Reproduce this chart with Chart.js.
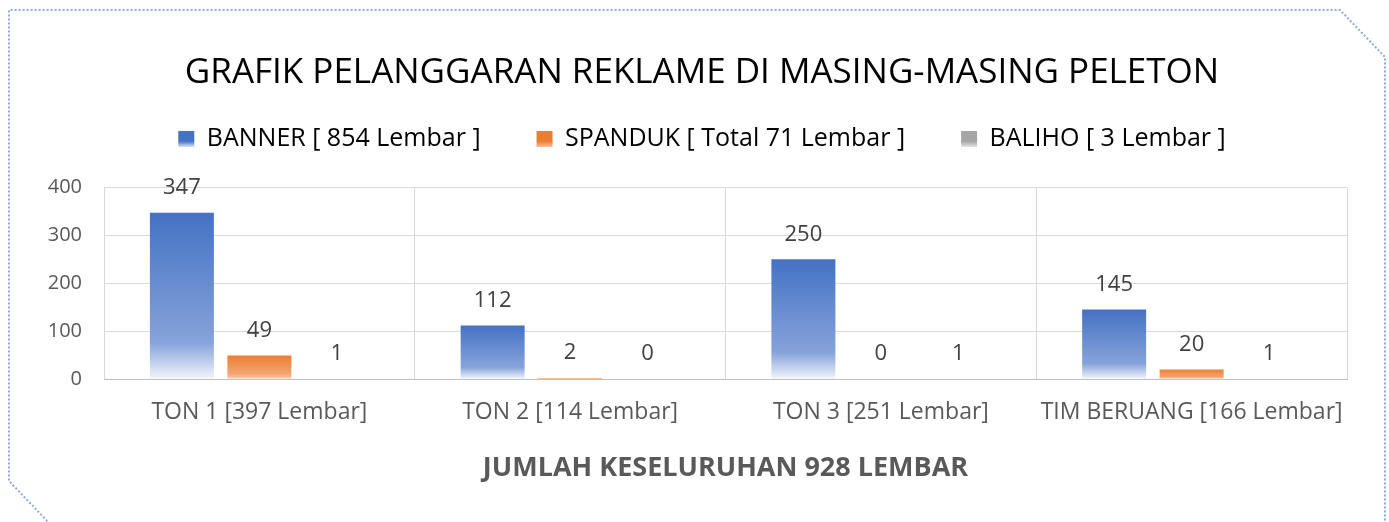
<!DOCTYPE html>
<html>
<head>
<meta charset="utf-8">
<script src="https://cdn.jsdelivr.net/npm/chart.js@4"></script>
<style>
  body { margin: 0; background: #fff; }
  canvas { display: block; }
</style>
</head>
<body>
<canvas id="grafik" width="1389" height="522"></canvas>
<script>
// data ##############################################
var kategori = ["TON 1 [397 Lembar]", "TON 2 [114 Lembar]", "TON 3 [251 Lembar]", "TIM BERUANG [166 Lembar]"];
var banner = [347, 112, 250, 145];
var spanduk = [49, 2, 0, 20];
var baliho = [1, 0, 1, 1];
var legendNames = ["BANNER [ 854 Lembar ]", "SPANDUK [ Total 71 Lembar ]", "BALIHO [ 3 Lembar ]"];
var yTicks = [0, 100, 200, 300, 400];

var fontName = "'Open Sans', 'DejaVu Sans', sans-serif";

// gradient per batang
function barGradient(top, mid, bottom) {
  return function (c) {
    var chart = c.chart;
    if (!chart.chartArea || c.raw === undefined) return top;
    var y = chart.scales.y;
    var yTop = y.getPixelForValue(c.raw);
    var yBase = y.getPixelForValue(0);
    if (yBase - yTop < 1) return top;
    var g = chart.ctx.createLinearGradient(0, yTop, 0, yBase);
    g.addColorStop(0, top);
    g.addColorStop(0.78, mid);
    g.addColorStop(1, bottom);
    return g;
  };
}

// legend box gradient
function legendGradient(ctx, top, bottom) {
  var g = ctx.createLinearGradient(0, 131, 0, 148);
  g.addColorStop(0, top);
  g.addColorStop(0.6, top);
  g.addColorStop(1, bottom);
  return g;
}

// label nilai di atas batang
var valueLabels = {
  id: 'valueLabels',
  afterDatasetsDraw: function (chart) {
    var ctx = chart.ctx;
    ctx.save();
    ctx.font = "22px " + fontName;
    ctx.fillStyle = "#404040";
    ctx.textAlign = "center";
    ctx.textBaseline = "middle";
    chart.data.datasets.forEach(function (ds, i) {
      chart.getDatasetMeta(i).data.forEach(function (bar, j) {
        ctx.fillText(ds.data[j], bar.x, bar.y - 25);
      });
    });
    ctx.restore();
  }
};

// legend lebih tinggi (jarak ke plot)
var legendSpace = {
  id: 'legendSpace',
  beforeInit: function (chart) {
    var origFit = chart.legend.fit;
    chart.legend.fit = function () {
      origFit.bind(chart.legend)();
      this.height += 26;
    };
  }
};

// bingkai titik-titik
var frame = {
  id: 'frame',
  afterDraw: function (chart) {
    var ctx = chart.ctx;
    ctx.save();
    ctx.strokeStyle = "#8FAADC";
    ctx.lineWidth = 2;
    ctx.setLineDash([2, 2]);
    ctx.beginPath();
    ctx.moveTo(50, 524);
    ctx.lineTo(9, 481);
    ctx.lineTo(9, 10);
    ctx.lineTo(1340, 10);
    ctx.lineTo(1385, 57);
    ctx.lineTo(1385, 524);
    ctx.stroke();
    ctx.restore();
  }
};

var ctx = document.getElementById('grafik').getContext('2d');
var colors = [
  ["#4472C4", "#86A3DA", "#F2F5FB"],
  ["#ED7D31", "#F3A673", "#F8CBAD"],
  ["#A5A5A5", "#C9C9C9", "#EDEDED"]
];

var myChart = new Chart(ctx, {
  type: 'bar',
  data: {
    labels: kategori,
    datasets: [
      { label: legendNames[0], data: banner, backgroundColor: barGradient(colors[0][0], colors[0][1], colors[0][2]) },
      { label: legendNames[1], data: spanduk, backgroundColor: barGradient(colors[1][0], colors[1][1], colors[1][2]) },
      { label: legendNames[2], data: baliho, backgroundColor: barGradient(colors[2][0], colors[2][1], colors[2][2]) }
    ]
  },
  options: {
    responsive: false,
    animation: false,
    devicePixelRatio: 1,
    categoryPercentage: 0.748,
    barPercentage: 0.826,
    layout: { padding: { left: 57, right: 42, top: 0, bottom: 14 } },
    plugins: {
      tooltip: { enabled: false },
      title: {
        display: true,
        text: "GRAFIK PELANGGARAN REKLAME DI MASING-MASING PELETON",
        color: "#000000",
        font: { family: fontName, size: 35, weight: 'normal' },
        padding: { top: 52, bottom: -23.5 }
      },
      legend: {
        display: true,
        labels: {
          color: "#595959",
          font: { family: fontName, size: 25 },
          boxWidth: 16,
          boxHeight: 16,
          padding: 56,
          generateLabels: function (chart) {
            return chart.data.datasets.map(function (ds, i) {
              return {
                text: ds.label,
                fillStyle: legendGradient(chart.ctx, colors[i][0], colors[i][2]),
                strokeStyle: 'rgba(0,0,0,0)',
                lineWidth: 0,
                datasetIndex: i
              };
            });
          }
        }
      }
    },
    scales: {
      x: {
        grid: { color: "#D9D9D9", offset: true, drawTicks: false },
        border: { color: "#BFBFBF", width: 1 },
        ticks: { color: "#595959", font: { family: fontName, size: 23 }, padding: 20, maxRotation: 0, autoSkip: false },
        title: {
          display: true,
          text: "JUMLAH KESELURUHAN 928 LEMBAR",
          color: "#595959",
          font: { family: fontName, size: 27, weight: 'bold' },
          padding: { top: 6, bottom: 23 }
        }
      },
      y: {
        min: 0,
        max: 400,
        afterBuildTicks: function (axis) {
          axis.ticks = yTicks.map(function (v) { return { value: v }; });
        },
        afterFit: function (axis) {
          axis.width = 47;
          // label angka sumbu y jangan dipotong
          axis._computeLabelArea = function () { return undefined; };
        },
        grid: { color: "#D9D9D9", drawTicks: false },
        border: { display: false },
        ticks: { color: "#595959", font: { family: fontName, size: 20 }, padding: 22 }
      }
    }
  },
  plugins: [valueLabels, legendSpace, frame]
});
</script>
</body>
</html>
